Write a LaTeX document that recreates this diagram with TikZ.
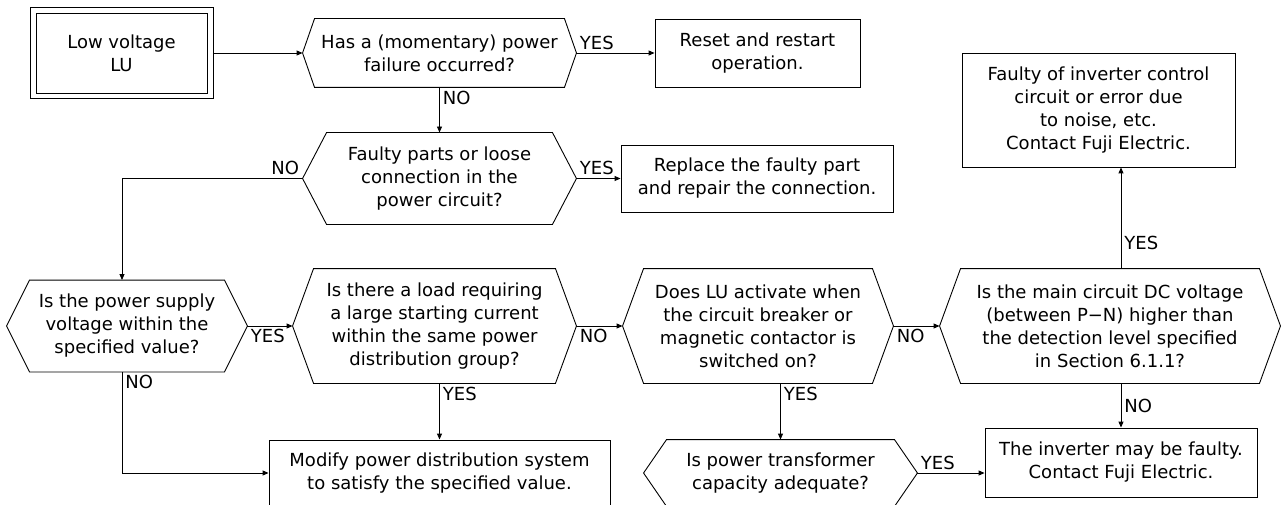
\documentclass[tikz,border=0pt]{standalone}
\usepackage{fontspec}
\setmainfont{DejaVu Sans}
\usetikzlibrary{positioning, arrows.meta}

\tikzset{
  box/.style={draw, align=center},
  decision/.style={align=center, inner sep=0pt},
  lbl/.style={inner sep=3pt}
}

\begin{document}
\begin{tikzpicture}[on grid, line width=0.9pt, >={Triangle[length=6pt,width=5pt]}, font=\fontsize{18}{23}\selectfont]
  \useasboundingbox (0,0) rectangle (1287pt,-505pt);

  % top row
  \node[box, minimum width=171pt, minimum height=80pt] (lv) at (121.5pt,-53pt) {Low voltage\\LU};
  \draw ([shift={(-5.5pt,5.5pt)}]lv.north west) rectangle ([shift={(5.5pt,-5.5pt)}]lv.south east);
  \node[decision, minimum width=273pt, minimum height=68pt] (h1) [right=318pt of lv] {Has a (momentary) power\\failure occurred?};
  \node[box, minimum width=205pt, minimum height=68pt] (reset) [right=318pt of h1] {Reset and restart\\operation.};

  \node[decision, minimum width=273pt, minimum height=91pt] (h2) [below=125.5pt of h1] {Faulty parts or loose\\connection in the\\power circuit?};
  \node[box, minimum width=272pt, minimum height=67pt] (repl) [right=317.5pt of h2] {Replace the faulty part\\and repair the connection.};

  % middle row
  \node[decision, minimum width=240pt, minimum height=91pt] (h3) [below left=147.5pt and 312.5pt of h2] {Is the power supply\\voltage within the\\specified value?};
  \node[decision, minimum width=283pt, minimum height=114pt] (h4) [right=307.5pt of h3] {Is there a load requiring\\a large starting current\\within the same power\\distribution group?};
  \node[decision, minimum width=270pt, minimum height=114pt] (h5) [right=323.5pt of h4] {Does LU activate when\\the circuit breaker or\\magnetic contactor is\\switched on?};
  \node[decision, minimum width=340pt, minimum height=114pt] (h6) [right=352pt of h5] {Is the main circuit DC voltage\\(between P−N) higher than\\the detection level specified\\in Section 6.1.1?};
  \node[box, minimum width=273pt, minimum height=114pt] (fault) [above left=216pt and 11.5pt of h6] {Faulty of inverter control\\circuit or error due\\to noise, etc.\\Contact Fuji Electric.};

  % bottom row
  \node[box, minimum width=341pt, minimum height=66pt] (mod) [below right=147pt and 5pt of h4] {Modify power distribution system\\to satisfy the specified value.};
  \node[decision, minimum width=273pt, minimum height=66pt] (h7) [below right=147pt and 22.5pt of h5] {Is power transformer\\capacity adequate?};
  \node[box, minimum width=272pt, minimum height=69pt] (inv) [below right=136.5pt and 11pt of h6] {The inverter may be faulty.\\Contact Fuji Electric.};

  % decision outlines
  \foreach \n/\d in {h1/12pt, h2/24pt, h3/23pt, h4/21pt, h5/21pt, h6/21pt, h7/23pt}
    \draw (\n.west) -- ([xshift=\d]\n.north west) -- ([xshift=-\d]\n.north east) -- (\n.east)
      -- ([xshift=-\d]\n.south east) -- ([xshift=\d]\n.south west) -- cycle;

  \draw[->] ([xshift=5.5pt]lv.east) -- (h1.west);
  \draw[->] (h1.east) -- node[lbl, pos=0, above right] {YES} (reset.west);
  \draw[->] (h1.south) -- node[lbl, pos=0, below right] {NO} (h2.north);
  \draw[->] (h2.east) -- node[lbl, pos=0, above right] {YES} (repl.west);
  \draw[->] (h2.west) -| node[lbl, pos=0, above left] {NO} ([xshift=-5pt]h3.north);
  \draw[->] (h3.east) -- node[lbl, pos=0, below right] {YES} (h4.west);
  \draw[->] ([xshift=-5pt]h3.south) |- node[lbl, pos=0, below right] {NO} (mod.west);
  \draw[->] (h4.east) -- node[lbl, pos=0, below right] {NO} (h5.west);
  \draw[->] (mod.north |- h4.south) -- node[lbl, pos=0, below right] {YES} (mod.north);
  \draw[->] (h5.east) -- node[lbl, pos=0, below right] {NO} (h6.west);
  \draw[->] (h7.north |- h5.south) -- node[lbl, pos=0, below right] {YES} (h7.north);
  \draw[->] (inv.north |- h6.north) -- node[lbl, pos=0.25, right] {YES} (inv.north |- fault.south);
  \draw[->] (inv.north |- h6.south) -- node[lbl, midway, right] {NO} (inv.north);
  \draw[->] (h7.east) -- node[lbl, pos=0, above right] {YES} (h7.east -| inv.west);
\end{tikzpicture}
\end{document}
